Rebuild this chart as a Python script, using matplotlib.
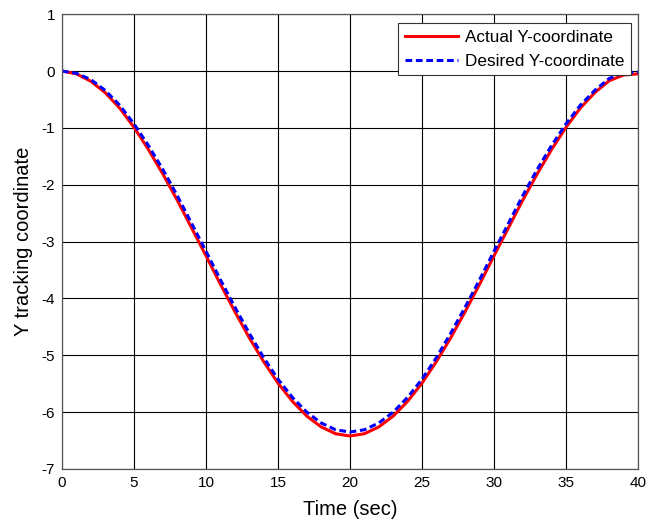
import matplotlib
matplotlib.use("Agg")
import matplotlib.pyplot as plt

plt.rcParams['font.family'] = ['Liberation Sans', 'DejaVu Sans']
plt.rcParams['axes.unicode_minus'] = False

time_sec = list(range(0, 41))
desired_y = [0.0, -0.04, -0.15, -0.34, -0.60, -0.93, -1.31, -1.73, -2.19, -2.68,
             -3.17, -3.67, -4.15, -4.61, -5.04, -5.42, -5.74, -6.00, -6.19, -6.31,
             -6.35, -6.31, -6.19, -6.00, -5.74, -5.42, -5.04, -4.61, -4.15, -3.67,
             -3.17, -2.68, -2.19, -1.73, -1.31, -0.93, -0.60, -0.34, -0.13, -0.03, -0.02]
actual_y = [0.0, -0.05, -0.18, -0.38, -0.65, -0.99, -1.38, -1.81, -2.27, -2.76,
            -3.25, -3.75, -4.23, -4.69, -5.11, -5.49, -5.81, -6.07, -6.26, -6.38,
            -6.42, -6.38, -6.26, -6.07, -5.81, -5.49, -5.11, -4.69, -4.23, -3.75,
            -3.25, -2.76, -2.27, -1.81, -1.38, -0.99, -0.65, -0.38, -0.17, -0.07, -0.05]

x_ticks = [0, 5, 10, 15, 20, 25, 30, 35, 40]
y_ticks = [1, 0, -1, -2, -3, -4, -5, -6, -7]

fig = plt.figure(figsize=(6.61, 5.25), dpi=100)
ax = fig.add_axes([0.0938, 0.1067, 0.8714, 0.8663])

ax.plot(time_sec, actual_y, color='#ff0000', lw=2.2, label='Actual Y-coordinate')
ax.plot(time_sec, desired_y, color='#0000ff', lw=2.2, ls=(0, (2.2, 1.2)), label='Desired Y-coordinate')

ax.set_xlim(0, 40)
ax.set_ylim(-7, 1)
ax.set_xticks(x_ticks)
ax.set_yticks(y_ticks)
ax.grid(True, color='black', lw=0.8, ls='-')
ax.tick_params(direction='in', length=0, labelsize=11, colors='black', pad=5)
for s in ax.spines.values():
    s.set_color('#555555')
    s.set_linewidth(0.9)

ax.set_xlabel('Time (sec)', fontsize=14.5, labelpad=7)
ax.set_ylabel('Y tracking coordinate', fontsize=14.5, labelpad=6)

leg = ax.legend(loc='upper right', bbox_to_anchor=(0.988, 0.980), borderaxespad=0,
                fontsize=12.3, frameon=True, fancybox=False, framealpha=1,
                edgecolor='#333333', handlelength=3.1, borderpad=0.4,
                labelspacing=0.5, handletextpad=0.4)
leg.get_frame().set_linewidth(0.8)

fig.savefig('out.png', dpi=100)
